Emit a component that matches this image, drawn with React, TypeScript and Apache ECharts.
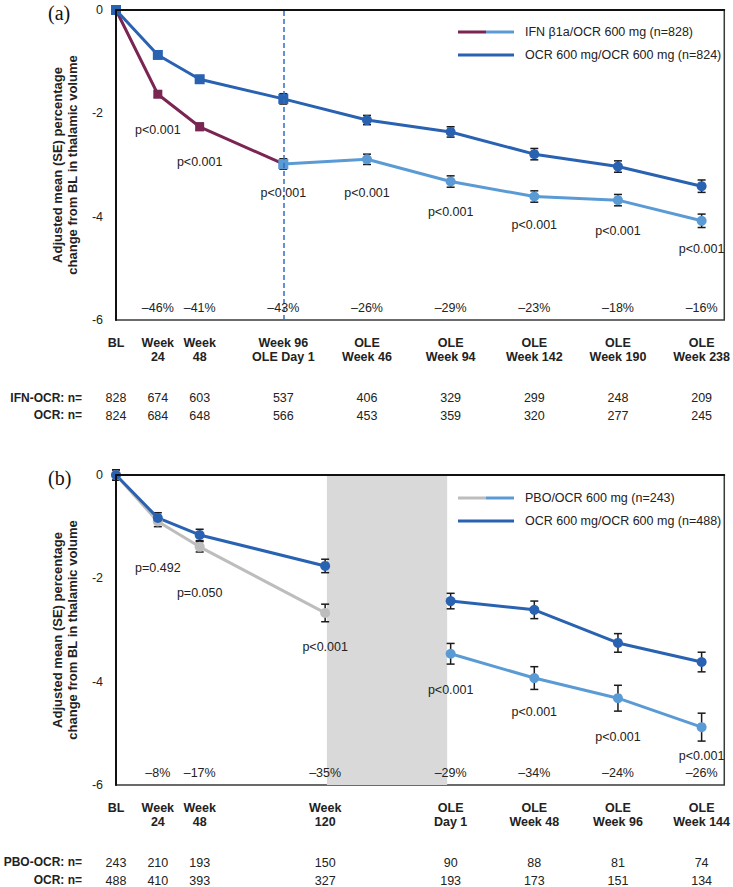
import React, { useEffect, useRef } from "react";
import * as echarts from "echarts";

// ---------- Panel (a) data ----------
const xPosA = [0, 24, 48, 96, 144, 192, 240, 288, 336];
const xLabelsA = ["BL", "Week\n24", "Week\n48", "Week 96\nOLE Day 1", "OLE\nWeek 46", "OLE\nWeek 94", "OLE\nWeek 142", "OLE\nWeek 190", "OLE\nWeek 238"];
const ocrA = [0, -0.87, -1.34, -1.72, -2.13, -2.36, -2.79, -3.03, -3.41];
const ocrASE = [0.03, 0.05, 0.06, 0.1, 0.09, 0.1, 0.11, 0.11, 0.12];
const ifnA = [0, -1.63, -2.26, -2.98, -2.89, -3.32, -3.61, -3.68, -4.08];
const ifnASE = [0.03, 0.06, 0.07, 0.1, 0.1, 0.11, 0.11, 0.11, 0.13];
const pA = ["", "p<0.001", "p<0.001", "p<0.001", "p<0.001", "p<0.001", "p<0.001", "p<0.001", "p<0.001"];
const pctA = ["", "–46%", "–41%", "–43%", "–26%", "–29%", "–23%", "–18%", "–16%"];
const nIfnA = [828, 674, 603, 537, 406, 329, 299, 248, 209];
const nOcrA = [824, 684, 648, 566, 453, 359, 320, 277, 245];

// ---------- Panel (b) data ----------
const xPosB = [0, 24, 48, 120, 192, 240, 288, 336];
const xLabelsB = ["BL", "Week\n24", "Week\n48", "Week\n120", "OLE\nDay 1", "OLE\nWeek 48", "OLE\nWeek 96", "OLE\nWeek 144"];
const ocrB = [0, -0.83, -1.16, -1.76, -2.44, -2.61, -3.25, -3.62];
const ocrBSE = [0.1, 0.1, 0.11, 0.13, 0.15, 0.17, 0.18, 0.19];
const pboB = [0, -0.9, -1.39, -2.67, -3.46, -3.93, -4.32, -4.88];
const pboBSE = [0.1, 0.1, 0.1, 0.17, 0.2, 0.22, 0.25, 0.27];
const pB = ["", "p=0.492", "p=0.050", "p<0.001", "p<0.001", "p<0.001", "p<0.001", "p<0.001"];
const pctB = ["", "–8%", "–17%", "–35%", "–29%", "–34%", "–24%", "–26%"];
const nPboB = [243, 210, 193, 150, 90, 88, 81, 74];
const nOcrB = [488, 410, 393, 327, 193, 173, 151, 134];

// ---------- styling ----------
const FONT = "Liberation Sans, Arial, sans-serif";
const DARK = "#2A62B2";
const LIGHT = "#5B9BD5";
const MAROON = "#7A2552";
const GRAY = "#BDBDBD";
const TXT = "#222";
const pOffA = [0, 36, 35, 29, 34, 30, 28, 31, 28];
const pOffB = [0, 46, 46, 34, 36, 34, 39, 29];

const pairs = (xs: number[], ys: number[], from = 0, to = xs.length) =>
  xs.slice(from, to).map((x, i) => [x, ys[i + from]]);

function errSeries(gi: number, xs: number[], vals: number[], ses: number[]) {
  return {
    type: "custom",
    xAxisIndex: gi * 4,
    yAxisIndex: gi,
    z: 2,
    silent: true,
    data: xs.map((x, i) => [x, vals[i] - ses[i], vals[i] + ses[i]]),
    encode: { x: 0, y: [1, 2] },
    renderItem: (_p: any, api: any) => {
      const x = api.value(0);
      const p1 = api.coord([x, api.value(2)]);
      const p2 = api.coord([x, api.value(1)]);
      const w = 4;
      const st = { stroke: "#1a1a1a", lineWidth: 1.5 };
      return {
        type: "group",
        children: [
          { type: "line", shape: { x1: p1[0], y1: p1[1], x2: p2[0], y2: p2[1] }, style: st },
          { type: "line", shape: { x1: p1[0] - w, y1: p1[1], x2: p1[0] + w, y2: p1[1] }, style: st },
          { type: "line", shape: { x1: p2[0] - w, y1: p2[1], x2: p2[0] + w, y2: p2[1] }, style: st },
        ],
      };
    },
  };
}

function lineSeries(gi: number, data: number[][], color: string, symbol: any, size = 9) {
  return {
    type: "line",
    xAxisIndex: gi * 4,
    yAxisIndex: gi,
    data,
    z: 3,
    symbol,
    symbolSize: size,
    showSymbol: true,
    lineStyle: { color, width: 3 },
    itemStyle: { color },
    silent: true,
  };
}

function pLabelSeries(gi: number, xs: number[], ys: number[], texts: string[], offs: number[]) {
  const data: any[] = [];
  xs.forEach((x, i) => {
    if (texts[i]) data.push([x, ys[i], i]);
  });
  return {
    type: "custom",
    xAxisIndex: gi * 4,
    yAxisIndex: gi,
    silent: true,
    z: 6,
    data,
    encode: { x: 0, y: 1 },
    renderItem: (_p: any, api: any) => {
      const idx = api.value(2);
      const c = api.coord([api.value(0), api.value(1)]);
      return {
        type: "text",
        x: c[0],
        y: c[1] + offs[idx],
        style: {
          text: texts[idx],
          fontFamily: FONT,
          fontSize: 12.5,
          fill: TXT,
          align: "center",
          verticalAlign: "middle",
        },
      };
    },
  };
}

function xAxes(gi: number, xs: number[], labels: string[], pct: string[], n1: number[], n2: number[]) {
  const lookup = (arr: (string | number)[]) => (v: number) => {
    const i = xs.indexOf(v);
    return i >= 0 ? String(arr[i]) : "";
  };
  const base = {
    type: "value",
    gridIndex: gi,
    min: 0,
    max: 349,
    splitLine: { show: false },
    axisTick: { show: false },
  };
  const plain = { fontFamily: FONT, fontSize: 12.5, color: TXT, margin: 0, hideOverlap: false };
  return [
    {
      ...base,
      position: "bottom",
      z: 4,
      axisLine: { show: true, lineStyle: { color: "#111", width: 2 } },
      axisLabel: {
        customValues: xs,
        formatter: lookup(labels),
        fontFamily: FONT,
        fontSize: 12.5,
        fontWeight: "bold",
        color: TXT,
        lineHeight: 14,
        margin: 16,
        hideOverlap: false,
      },
    },
    {
      ...base,
      position: "bottom",
      offset: -19,
      z: 10,
      axisLine: { show: false },
      axisLabel: { ...plain, customValues: xs, formatter: lookup(pct) },
    },
    {
      ...base,
      position: "bottom",
      offset: 71,
      axisLine: { show: false },
      axisLabel: { ...plain, customValues: xs, formatter: lookup(n1) },
    },
    {
      ...base,
      position: "bottom",
      offset: 89,
      axisLine: { show: false },
      axisLabel: { ...plain, customValues: xs, formatter: lookup(n2) },
    },
  ];
}

function yAxis(gi: number) {
  return {
    type: "value",
    gridIndex: gi,
    min: -6,
    max: 0,
    interval: 2,
    z: 4,
    splitLine: { show: false },
    axisTick: { show: false },
    axisLine: { show: true, lineStyle: { color: "#111", width: 2 } },
    axisLabel: { fontFamily: FONT, fontSize: 12.5, color: TXT, margin: 13 },
    name: "Adjusted mean (SE) percentage\nchange from BL in thalamic volume",
    nameLocation: "middle",
    nameRotate: 90,
    nameGap: 36,
    nameTextStyle: { fontFamily: FONT, fontSize: 13, fontWeight: "bold", color: TXT, lineHeight: 15 },
  };
}

function legendGraphics(top: number, c1: string, c2: string, t1: string, t2: string) {
  const x0 = 458, x1 = 486, x2 = 514;
  const ts = { fontFamily: FONT, fontSize: 12.5, fill: TXT, verticalAlign: "middle" };
  return [
    { type: "line", shape: { x1: x0, y1: top, x2: x1, y2: top }, style: { stroke: c1, lineWidth: 3 } },
    { type: "line", shape: { x1: x1, y1: top, x2: x2, y2: top }, style: { stroke: c2, lineWidth: 3 } },
    { type: "text", x: 525, y: top, style: { ...ts, text: t1 } },
    { type: "line", shape: { x1: x0, y1: top + 23, x2: x2, y2: top + 23 }, style: { stroke: DARK, lineWidth: 3 } },
    { type: "text", x: 525, y: top + 23, style: { ...ts, text: t2 } },
  ];
}

function headerText(x: number, y: number, text: string) {
  return {
    type: "text",
    x,
    y,
    style: { text, fontFamily: FONT, fontSize: 12, fontWeight: "bold", fill: TXT, align: "right", verticalAlign: "middle" },
  };
}

export default function App() {
  const ref = useRef<HTMLDivElement>(null);
  useEffect(() => {
    document.body.style.margin = "0";
    const chart = echarts.init(ref.current!, null, { renderer: "svg" });
    const rectUntil = (k: number) => (_v: any, p: any) => (p.dataIndex < k ? "rect" : "circle");
    chart.setOption({
      animation: false,
      backgroundColor: "#fff",
      grid: [
        { left: 116, top: 10, width: 611, height: 310, show: true, borderColor: "#3a3a3a", borderWidth: 1.5, backgroundColor: "transparent" },
        { left: 116, top: 475, width: 611, height: 310, show: true, borderColor: "#3a3a3a", borderWidth: 1.5, backgroundColor: "transparent" },
      ],
      xAxis: [...xAxes(0, xPosA, xLabelsA, pctA, nIfnA, nOcrA), ...xAxes(1, xPosB, xLabelsB, pctB, nPboB, nOcrB)],
      yAxis: [yAxis(0), yAxis(1)],
      series: [
        // Panel (a)
        {
          type: "line",
          xAxisIndex: 0,
          yAxisIndex: 0,
          data: [],
          silent: true,
          markLine: {
            silent: true,
            symbol: "none",
            label: { show: false },
            lineStyle: { color: "#2F6FC6", type: [5, 3], width: 1.5 },
            data: [{ xAxis: xPosA[3] }],
          },
        },
        errSeries(0, xPosA, ocrA, ocrASE),
        errSeries(0, xPosA, ifnA, ifnASE),
        lineSeries(0, pairs(xPosA, ifnA, 0, 4), MAROON, "rect"),
        lineSeries(0, pairs(xPosA, ifnA, 3), LIGHT, rectUntil(1), 10),
        lineSeries(0, pairs(xPosA, ocrA), DARK, rectUntil(4), 10),
        pLabelSeries(0, xPosA, ifnA, pA, pOffA),
        // Panel (b)
        {
          type: "line",
          xAxisIndex: 4,
          yAxisIndex: 1,
          data: [],
          silent: true,
          z: 0,
          markArea: {
            silent: true,
            itemStyle: { color: "#D9D9D9" },
            data: [[{ xAxis: 121 }, { xAxis: 190 }]],
          },
        },
        errSeries(1, xPosB, ocrB, ocrBSE),
        errSeries(1, xPosB, pboB, pboBSE),
        lineSeries(1, pairs(xPosB, pboB, 0, 4), GRAY, "circle", 10),
        lineSeries(1, pairs(xPosB, pboB, 4), LIGHT, "circle", 10),
        lineSeries(1, pairs(xPosB, ocrB, 0, 4), DARK, "circle", 10),
        lineSeries(1, pairs(xPosB, ocrB, 4), DARK, "circle", 10),
        pLabelSeries(1, xPosB, pboB, pB, pOffB),
      ],
      graphic: [
        { type: "text", x: 48, y: 13, style: { text: "(a)", fontFamily: "Liberation Serif, DejaVu Serif, serif", fontSize: 20, fill: "#111", verticalAlign: "middle" } },
        { type: "text", x: 48, y: 478, style: { text: "(b)", fontFamily: "Liberation Serif, DejaVu Serif, serif", fontSize: 20, fill: "#111", verticalAlign: "middle" } },
        ...legendGraphics(32, MAROON, LIGHT, "IFN β1a/OCR 600 mg (n=828)", "OCR 600 mg/OCR 600 mg (n=824)"),
        ...legendGraphics(498, GRAY, LIGHT, "PBO/OCR 600 mg (n=243)", "OCR 600 mg/OCR 600 mg (n=488)"),
        headerText(82, 398, "IFN-OCR: n="),
        headerText(82, 415, "OCR: n="),
        headerText(82, 862, "PBO-OCR: n="),
        headerText(82, 880, "OCR: n="),
      ],
    });
    return () => chart.dispose();
  }, []);
  return <div ref={ref} style={{ width: 733, height: 887 }} />;
}
